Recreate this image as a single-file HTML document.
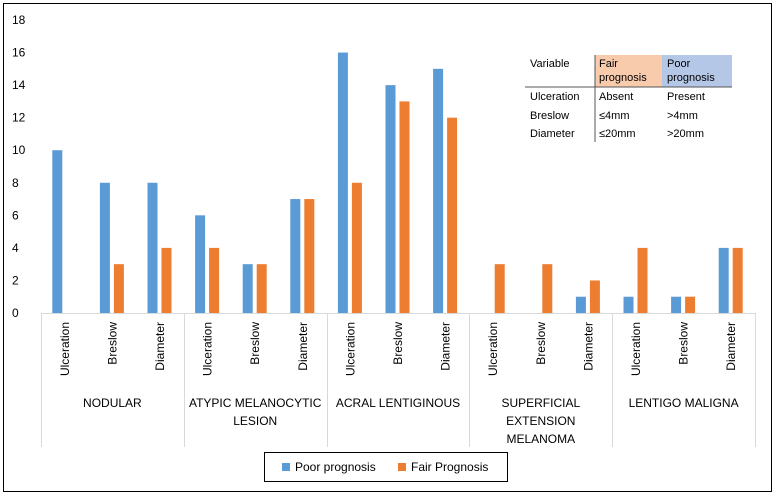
<!DOCTYPE html>
<html><head><meta charset="utf-8"><style>
body{margin:0;background:#fff;font-family:"Liberation Sans",sans-serif}
svg text{font-family:"Liberation Sans",sans-serif;fill:#000}
</style></head><body>
<svg width="776" height="497">
<rect x="3.5" y="3.5" width="768" height="488" fill="#fff" stroke="#000"/>
<g id="yaxis"></g><g id="bars"></g><g id="xaxis"></g>
<g font-size="11">
<rect x="595" y="55" width="67" height="32" fill="#f8cbad"/>
<rect x="662" y="55" width="70" height="32" fill="#b4c7e7"/>
<line x1="525" y1="87" x2="732" y2="87" stroke="#555"/>
<line x1="595" y1="55" x2="595" y2="142" stroke="#555"/>
<text x="530" y="67">Variable</text>
<text x="599" y="67">Fair</text><text x="599" y="81">prognosis</text>
<text x="667" y="67">Poor</text><text x="667" y="81">prognosis</text>
<text x="530" y="100">Ulceration</text><text x="599" y="100">Absent</text><text x="667" y="100">Present</text>
<text x="530" y="119">Breslow</text><text x="599" y="119">≤4mm</text><text x="667" y="119">&gt;4mm</text>
<text x="530" y="137">Diameter</text><text x="599" y="137">≤20mm</text><text x="667" y="137">&gt;20mm</text>
</g>
<g>
<rect x="264.5" y="452.5" width="243" height="29" fill="#fff" stroke="#000"/>
<rect x="282" y="463" width="8" height="8" fill="#5b9bd5"/>
<text x="295" y="471" font-size="12">Poor prognosis</text>
<rect x="398" y="463" width="8" height="8" fill="#ed7d31"/>
<text x="411" y="471" font-size="12">Fair Prognosis</text>
</g>
</svg>
<script>
const categories=["Ulceration","Breslow","Diameter","Ulceration","Breslow","Diameter","Ulceration","Breslow","Diameter","Ulceration","Breslow","Diameter","Ulceration","Breslow","Diameter"];
const groups=[["NODULAR"],["ATYPIC MELANOCYTIC","LESION"],["ACRAL LENTIGINOUS"],["SUPERFICIAL","EXTENSION","MELANOMA"],["LENTIGO MALIGNA"]];
const poor=[10,8,8,6,3,7,16,14,15,0,0,1,1,1,4];
const fair=[0,3,4,4,3,7,8,13,12,3,3,2,4,1,4];
const yTicks=[0,2,4,6,8,10,12,14,16,18];
const NS="http://www.w3.org/2000/svg";
const x0=41,x1=755,y0=313,yTop=20,yMax=18;
const bw=(x1-x0)/categories.length;
const y=v=>y0-(v/yMax)*(y0-yTop);
const xc=i=>x0+bw*(i+0.5);
function mk(tag,attrs,parent,txt){const e=document.createElementNS(NS,tag);for(const k in attrs)e.setAttribute(k,attrs[k]);if(txt!=null)e.textContent=txt;document.getElementById(parent).appendChild(e);return e;}
yTicks.forEach(t=>{const e=mk('text',{x:12,y:y(t)+4,'font-size':12},'yaxis',t);

});
poor.forEach((v,i)=>{const e=mk('rect',{x:xc(i)-12.5,y:y(v),width:10,height:y0-y(v),fill:'#5b9bd5'},'bars');

});
fair.forEach((v,i)=>{const e=mk('rect',{x:xc(i)+1.5,y:y(v),width:10,height:y0-y(v),fill:'#ed7d31'},'bars');

});
mk('line',{x1:x0,y1:y0+0.5,x2:x1,y2:y0+0.5,stroke:'#d9d9d9'},'xaxis');
for(let g=0;g<=groups.length;g++){const gx=Math.round(x0+g*3*bw)+0.5;mk('line',{x1:gx,y1:y0,x2:gx,y2:447,stroke:'#d9d9d9'},'xaxis');}
categories.forEach((c,i)=>{const cx=xc(i)+4;const e=mk('text',{x:0,y:0,'font-size':12,'text-anchor':'end',transform:`translate(${cx},322) rotate(-90)`},'xaxis',c);

});
groups.forEach((g,gi)=>{const cx=x0+(gi+0.5)*3*bw;g.forEach((line,li)=>{const e=mk('text',{x:cx,y:407+li*18,'font-size':12,'text-anchor':'middle'},'xaxis',line);

});});
</script>
</body></html>
